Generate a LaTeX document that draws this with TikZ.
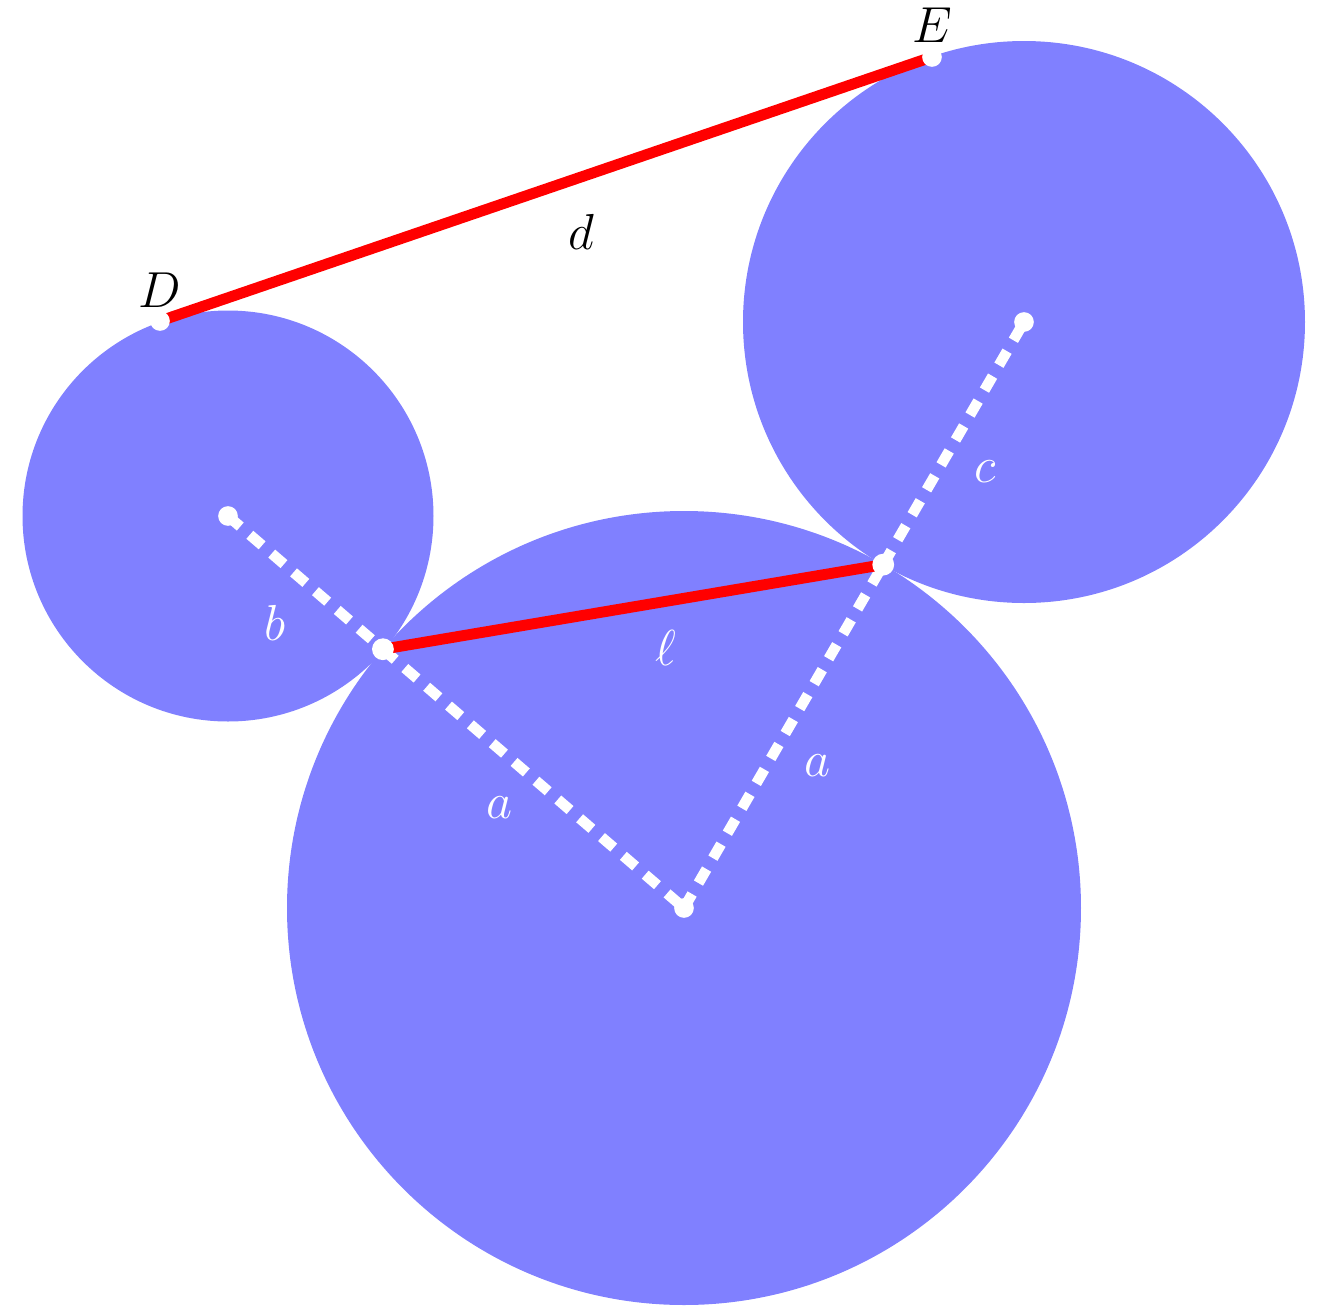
\documentclass[tikz,border=0pt]{standalone}
\usetikzlibrary{calc}
\definecolor{disc}{RGB}{128,128,255}
\tikzset{
  dashline/.style={white,line width=3pt,dash pattern=on 4.6pt off 3.6pt},
  redline/.style={red,line width=3.1pt},
  dot/.style={circle,fill=white,inner sep=0pt,minimum size=5.6pt},
  bigdot/.style={circle,fill=white,inner sep=0pt,minimum size=6.2pt},
  lab/.style={font=\fontsize{14}{17}\selectfont},
  wlab/.style={lab,text=white},
}
\begin{document}
\begin{tikzpicture}
\useasboundingbox (0,0) rectangle (13.18,-13.07);
\coordinate (A) at (6.84,-9.08);
\coordinate (B) at (2.28,-5.16);
\coordinate (C) at (10.24,-3.22);
\coordinate (T1) at ($(A)!0.6602!(B)$);
\coordinate (T2) at ($(A)!0.586!(C)$);
\coordinate (D) at (1.60,-3.21);
\coordinate (E) at (9.32,-0.57);
\fill[disc] (A) circle (3.97);
\fill[disc] (B) circle (2.055);
\fill[disc] (C) circle (2.81);
\draw[dashline] (B) -- (T1);
\draw[dashline] (T1) -- (A);
\draw[dashline] (A) -- (T2);
\draw[dashline] (T2) -- (C);
\draw[redline] (T1) -- (T2);
\draw[redline] (D) -- (E);
\node[dot] (nB) at (B) {};
\node[dot] (nA) at (A) {};
\node[dot] (nC) at (C) {};
\node[bigdot] (nT1) at (T1) {};
\node[bigdot] (nT2) at (T2) {};
\node[dot] (nD) at (D) {};
\node[dot] (nE) at (E) {};
\node[lab] (lD) at (1.60,-2.90) {$D$};
\node[lab] (lE) at (9.32,-0.25) {$E$};
\node[lab] (ld) at (5.81,-2.32) {$d$};
\node[wlab] (lb) at (2.75,-6.23) {$b$};
\node[wlab] (la1) at (5.00,-8.08) {$a$};
\node[wlab] (la2) at (8.18,-7.66) {$a$};
\node[wlab] (lc) at (9.85,-4.72) {$c$};
\node[wlab] (ll) at (6.66,-6.48) {$\ell$};
\end{tikzpicture}
\end{document}
